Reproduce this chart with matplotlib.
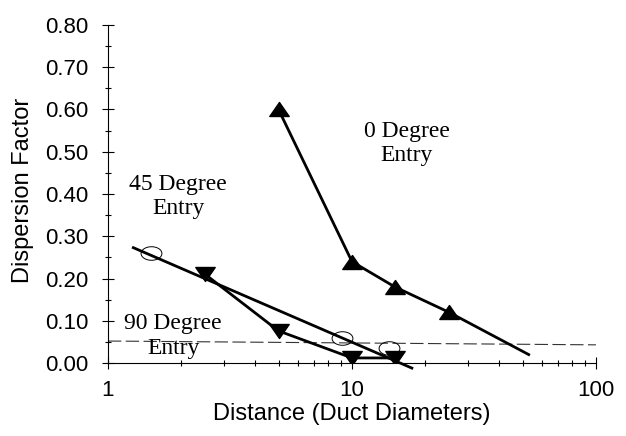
import matplotlib

matplotlib.use("Agg")

import matplotlib.pyplot as plt
import numpy as np
from matplotlib.path import Path
from matplotlib.ticker import FixedLocator, MultipleLocator, NullFormatter

# 0 degree entry (filled up-triangles); last point of the line has no marker
deg0_x = [5, 10, 15, 25]
deg0_y = [0.60, 0.24, 0.18, 0.12]
deg0_end_x = 53
deg0_end_y = 0.02

# 45 degree entry (open circles) and its straight fit line
deg45_x = [1.5, 9.1, 14.2]
deg45_y = [0.26, 0.06, 0.035]
deg45_fit_x = [1.27, 17.6]
deg45_fit_y = [0.273, -0.012]

# 90 degree entry (filled down-triangles)
deg90_x = [2.5, 5, 10, 15]
deg90_y = [0.21, 0.076, 0.012, 0.012]

# dashed reference line
ref_x = [1, 100]
ref_y = [0.052, 0.043]

y_ticks = [0.0, 0.1, 0.2, 0.3, 0.4, 0.5, 0.6, 0.7, 0.8]
x_ticks = [1, 10, 100]

sans = ["Liberation Sans", "DejaVu Sans"]
serif = ["Liberation Serif", "DejaVu Serif"]

fig = plt.figure(figsize=(6.26, 4.36), dpi=100)
ax = fig.add_axes([0.1725, 0.1674, 0.7795, 0.7753])

ax.set_xscale("log")
ax.set_xlim(1, 100)
ax.set_ylim(0, 0.8)

# flattened markers, as in the scanned original
t = np.linspace(0, 2 * np.pi, 60)
ellipse = Path(np.column_stack([np.cos(t), 0.65 * np.sin(t)]), closed=True)
tri_up = Path([(-1, -0.72), (1, -0.72), (0, 0.72), (-1, -0.72)], closed=True)
tri_down = Path([(-1, 0.72), (1, 0.72), (0, -0.72), (-1, 0.72)], closed=True)

ax.plot(ref_x, ref_y, color="#333333", lw=0.8, dashes=(12, 4), zorder=1)

ax.plot(deg0_x + [deg0_end_x], deg0_y + [deg0_end_y], color="black", lw=2.0, zorder=3)
ax.plot(deg0_x, deg0_y, ls="none", marker=tri_up, ms=14, color="black", zorder=4)

ax.plot(deg45_fit_x, deg45_fit_y, color="black", lw=2.0, zorder=3, clip_on=False)
ax.plot(deg45_x, deg45_y, ls="none", marker=ellipse, ms=15, mfc="none",
        mec="black", mew=0.7, zorder=4)

ax.plot(deg90_x, deg90_y, color="black", lw=2.0, marker=tri_down, ms=14, zorder=3)

for side in ("top", "right"):
    ax.spines[side].set_visible(False)
for side in ("left", "bottom"):
    ax.spines[side].set_linewidth(0.8)

ax.yaxis.set_major_locator(FixedLocator(y_ticks))
ax.yaxis.set_minor_locator(MultipleLocator(0.05))
ax.set_yticklabels([f"{v:.2f}" for v in y_ticks], family=sans, fontsize=16)
ax.xaxis.set_major_locator(FixedLocator(x_ticks))
ax.xaxis.set_minor_formatter(NullFormatter())
ax.set_xticklabels([str(v) for v in x_ticks], family=sans, fontsize=16)

ax.tick_params(which="major", direction="inout", length=8, width=0.8)
ax.tick_params(which="minor", direction="inout", length=5, width=0.8)
ax.tick_params(axis="y", which="major", pad=10)
ax.tick_params(axis="x", which="major", pad=8)

ax.set_xlabel("Distance (Duct Diameters)", family=sans, fontsize=17, labelpad=1.5)
ax.set_ylabel("Dispersion Factor", family=sans, fontsize=17)
ax.yaxis.set_label_coords(-0.152, 0.51)

ax.text(16.8, 0.52, "0 Degree\nEntry", family=serif, fontsize=17,
        ha="center", va="center", linespacing=1.2)
ax.text(1.94, 0.394, "45 Degree\nEntry", family=serif, fontsize=17,
        ha="center", va="center", linespacing=1.2)
ax.text(1.85, 0.064, "90 Degree\nEntry", family=serif, fontsize=17,
        ha="center", va="center", linespacing=1.2)

fig.savefig("out.png", dpi=100)
